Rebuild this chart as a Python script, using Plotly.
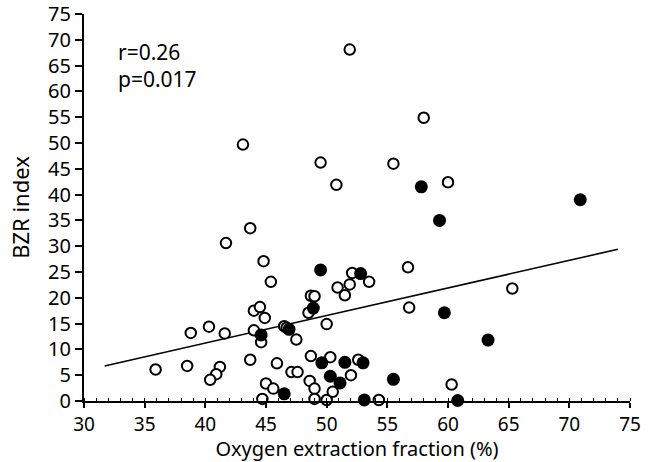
import plotly.graph_objects as go

open_x = [51.9, 58.0, 43.1, 49.5, 55.5, 50.8, 60.0, 43.7, 41.7, 44.8, 45.4, 56.7, 65.3, 56.8,
          52.1, 53.5, 50.9, 51.9, 51.5, 48.7, 49.0, 48.5, 44.0, 44.5, 44.9, 50.0, 38.8, 40.3,
          41.6, 44.0, 44.6, 46.5, 46.7, 47.5, 35.9, 38.5, 41.2, 40.9, 40.4, 43.7, 45.9, 47.1,
          47.6, 48.7, 50.3, 52.6, 52.0, 45.0, 45.6, 44.7, 48.6, 49.0, 49.0, 50.0, 50.5, 54.3, 60.3]
open_y = [68.1, 54.9, 49.7, 46.2, 46.0, 41.9, 42.4, 33.5, 30.6, 27.1, 23.1, 25.9, 21.8, 18.1,
          24.8, 23.1, 22.0, 22.6, 20.5, 20.4, 20.3, 17.1, 17.5, 18.2, 16.1, 14.9, 13.2, 14.4,
          13.1, 13.7, 11.4, 14.5, 14.2, 11.9, 6.1, 6.8, 6.6, 5.2, 4.1, 8.0, 7.3, 5.6,
          5.6, 8.7, 8.5, 8.0, 5.0, 3.4, 2.4, 0.4, 3.9, 2.4, 0.4, 0.2, 1.8, 0.2, 3.2]

filled_x = [57.8, 70.9, 59.3, 49.5, 52.8, 48.9, 59.7, 44.6, 46.9, 63.3, 49.6, 51.5, 53.0,
            50.3, 51.1, 55.5, 46.5, 53.1, 60.8]
filled_y = [41.5, 39.0, 35.0, 25.4, 24.7, 18.0, 17.1, 12.8, 13.9, 11.8, 7.4, 7.5, 7.4,
            4.8, 3.5, 4.2, 1.4, 0.2, 0.1]

fit_x = [31.7, 74.0]
fit_y = [6.8, 29.4]

x_ticks = [30, 35, 40, 45, 50, 55, 60, 65, 70, 75]
y_ticks = [0, 5, 10, 15, 20, 25, 30, 35, 40, 45, 50, 55, 60, 65, 70, 75]

stats_lines = ["r=0.26", "p=0.017"]

FONT = "Noto Sans"

fig = go.Figure()
fig.add_trace(go.Scatter(x=fit_x, y=fit_y, mode="lines",
                         line=dict(color="black", width=1.6), cliponaxis=False,
                         showlegend=False, hoverinfo="skip"))
fig.add_trace(go.Scatter(x=open_x, y=open_y, mode="markers", cliponaxis=False,
                         marker=dict(symbol="circle", size=10.5, color="white",
                                     line=dict(color="black", width=2)),
                         showlegend=False))
fig.add_trace(go.Scatter(x=filled_x, y=filled_y, mode="markers", cliponaxis=False,
                         marker=dict(symbol="circle", size=13, color="black",
                                     line=dict(color="black", width=0)),
                         showlegend=False))

fig.add_annotation(x=0.058, y=0.868, xref="paper", yref="paper", xanchor="left", yanchor="middle",
                   align="left", text="<br>".join(stats_lines), showarrow=False,
                   font=dict(family=FONT, size=21, color="black"))

fig.update_layout(
    width=652, height=462,
    margin=dict(l=84, r=22, t=14, b=61, autoexpand=False),
    paper_bgcolor="white", plot_bgcolor="white",
    font=dict(family=FONT, size=20, color="black"),
    xaxis=dict(range=[30, 75], tickvals=x_ticks, ticktext=[str(v) for v in x_ticks],
               automargin=False,
               showgrid=False, zeroline=False, showline=True, linecolor="black", linewidth=2,
               ticks="outside", ticklen=5, tickwidth=1.5, tickcolor="black",
               tickfont=dict(family=FONT, size=19),
               minor=dict(dtick=1, ticks="inside", ticklen=3, tickcolor="black", tickwidth=1),
               title=dict(text="Oxygen extraction fraction (%)", standoff=4,
                          font=dict(family=FONT, size=20))),
    yaxis=dict(range=[0, 75], tickvals=y_ticks, ticktext=[str(v) for v in y_ticks],
               automargin=False,
               showgrid=False, zeroline=False, showline=True, linecolor="black", linewidth=2,
               ticks="outside", ticklen=7, tickwidth=1.5, tickcolor="black",
               tickfont=dict(family=FONT, size=20),
               title=dict(text="BZR index", standoff=12, font=dict(family=FONT, size=22))),
)

fig.write_html("out.html", config={"displayModeBar": False},
               post_script="document.body.style.margin='0';document.body.style.overflow='hidden';")
